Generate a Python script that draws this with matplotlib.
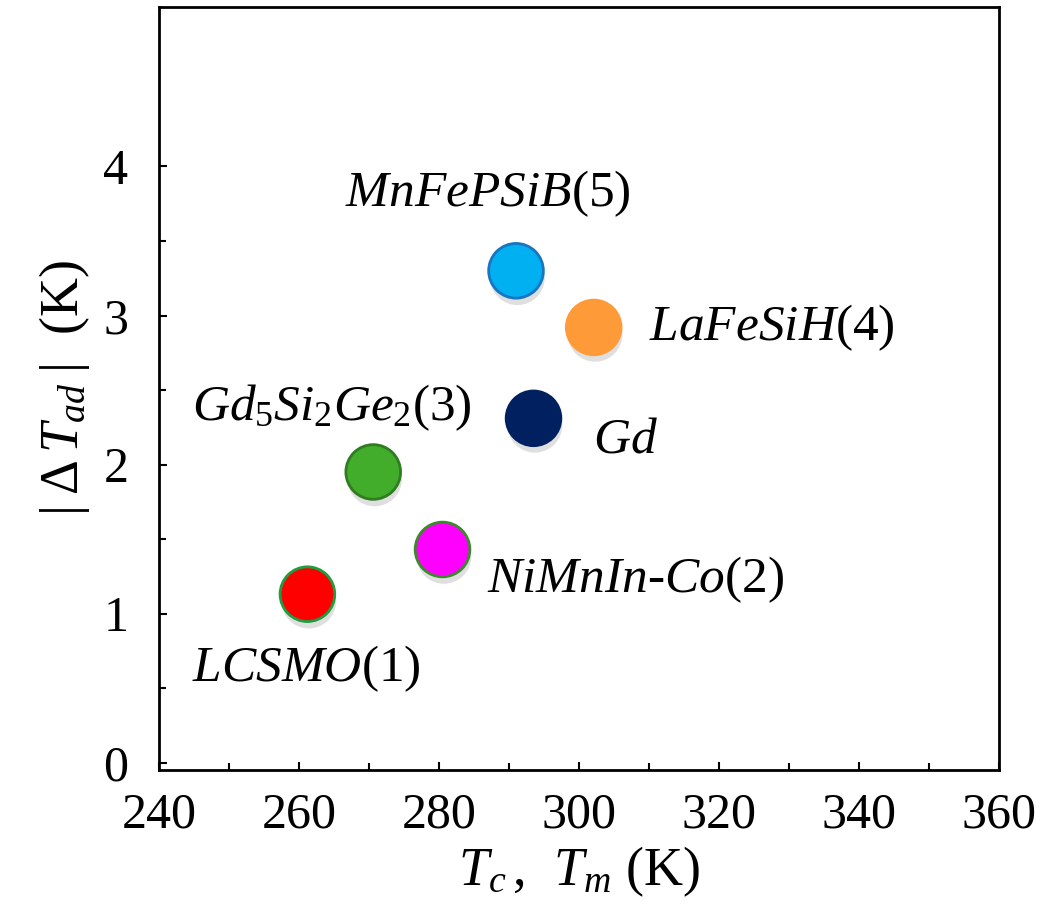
import matplotlib
matplotlib.use("Agg")
import matplotlib.pyplot as plt
import matplotlib.patheffects as pe
import numpy as np

plt.rcParams['font.family'] = ['Liberation Serif', 'DejaVu Serif']
plt.rcParams['mathtext.fontset'] = 'custom'
plt.rcParams['mathtext.rm'] = 'Liberation Serif'
plt.rcParams['mathtext.it'] = 'Liberation Serif:italic'
plt.rcParams['mathtext.bf'] = 'Liberation Serif:bold'

# materials: Curie / transition temperature vs adiabatic temperature change
materials = ["LCSMO(1)", "NiMnIn-Co(2)", "Gd5Si2Ge2(3)", "Gd", "LaFeSiH(4)", "MnFePSiB(5)"]
tc = [261.2, 280.5, 270.6, 293.5, 302.1, 291.0]
dtad = [1.13, 1.43, 1.95, 2.31, 2.92, 3.30]
face_colors = ["#FF0000", "#FF00FF", "#41AD2B", "#002060", "#FF9A38", "#00B0F0"]
edge_colors = ["#1E9E3E", "#3A8A2A", "#2F7D20", "#002060", "#FF9A38", "#1A75C0"]
label_texts = [r"$LCSMO$(1)", r"$NiMnIn$-$Co$(2)", r"$Gd_5Si_2Ge_2$(3)", r"$Gd$",
               r"$LaFeSiH$(4)", r"$MnFePSiB$(5)"]
label_x = [244.7, 286.9, 244.7, 302.0, 310.0, 266.6]
label_y = [0.63, 1.23, 2.38, 2.16, 2.92, 3.82]

fig = plt.figure(figsize=(10.63, 9.13), dpi=100)
ax = fig.add_axes([0.1496, 0.1566, 0.7902, 0.8357])

shadow = [pe.SimplePatchShadow(offset=(1, -5), shadow_rgbFace='gray', alpha=0.25), pe.Normal()]
for x, y, fc, ec in zip(tc, dtad, face_colors, edge_colors):
    ax.scatter([x], [y], s=1550, c=fc, edgecolors=ec, linewidths=2, zorder=3,
               path_effects=shadow)

for t, x, y in zip(label_texts, label_x, label_y):
    ax.text(x, y, t, fontsize=37, ha='left', va='center')

ax.set_xlim(240, 360)
ax.set_ylim(-0.05, 5.07)
ax.set_xticks(np.arange(240, 361, 20))
ax.set_xticks(np.arange(250, 351, 10), minor=True)
ax.set_yticks([0, 1, 2, 3, 4])
ax.set_yticks(np.arange(0.5, 4.1, 0.5), minor=True)
ax.tick_params(axis='both', which='both', direction='in', width=1.5, labelsize=36)
ax.tick_params(axis='both', which='major', length=6)
ax.tick_params(axis='both', which='minor', length=5)
ax.tick_params(axis='x', which='major', pad=16)
ax.tick_params(axis='y', which='major', pad=22)
for sp in ax.spines.values():
    sp.set_linewidth(2)

ax.set_xlabel(r"$T_c\,$,  $T_m$ (K)", fontsize=39, labelpad=4)
ax.set_ylabel(r"$|\;\Delta\, T_{ad}\;|$  (K)", fontsize=39, labelpad=8)

fig.savefig("out.png", dpi=100)
